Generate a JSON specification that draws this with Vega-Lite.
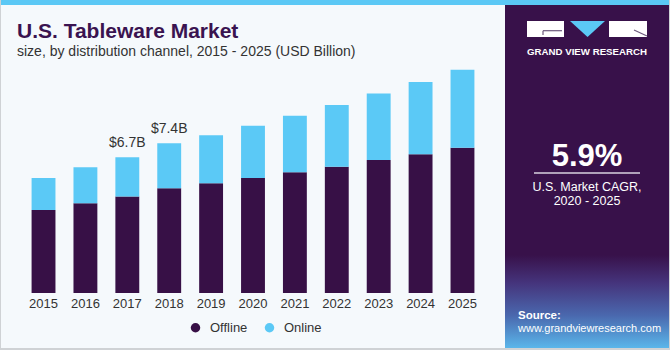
{
  "$schema": "https://vega.github.io/schema/vega-lite/v6.json",
  "background": "#cfd2d5",
  "padding": {"left": 1, "right": 1, "top": 0, "bottom": 2},
  "spacing": 0,
  "bounds": "flush",
  "config": {"view": {"stroke": null}, "concat": {"spacing": 0}, "font": "Liberation Sans"},
  "datasets": {
    "market": [
      {"year": "2015", "channel": "Offline", "value": 4.10},
      {"year": "2015", "channel": "Online", "value": 1.58},
      {"year": "2016", "channel": "Offline", "value": 4.43},
      {"year": "2016", "channel": "Online", "value": 1.78},
      {"year": "2017", "channel": "Offline", "value": 4.77},
      {"year": "2017", "channel": "Online", "value": 1.93},
      {"year": "2018", "channel": "Offline", "value": 5.17},
      {"year": "2018", "channel": "Online", "value": 2.23},
      {"year": "2019", "channel": "Offline", "value": 5.42},
      {"year": "2019", "channel": "Online", "value": 2.37},
      {"year": "2020", "channel": "Offline", "value": 5.68},
      {"year": "2020", "channel": "Online", "value": 2.58},
      {"year": "2021", "channel": "Offline", "value": 5.96},
      {"year": "2021", "channel": "Online", "value": 2.80},
      {"year": "2022", "channel": "Offline", "value": 6.24},
      {"year": "2022", "channel": "Online", "value": 3.05},
      {"year": "2023", "channel": "Offline", "value": 6.57},
      {"year": "2023", "channel": "Online", "value": 3.28},
      {"year": "2024", "channel": "Offline", "value": 6.85},
      {"year": "2024", "channel": "Online", "value": 3.57},
      {"year": "2025", "channel": "Offline", "value": 7.18},
      {"year": "2025", "channel": "Online", "value": 3.85}
    ],
    "panelBold": [
      {"text": "GRAND VIEW RESEARCH", "px": 82, "py": 49.5, "fs": 9.7},
      {"text": "5.9%", "px": 82, "py": 161, "fs": 31}
    ],
    "panelNormal": [
      {"text": "U.S. Market CAGR,", "px": 82, "py": 185.5, "fs": 12.5},
      {"text": "2020 - 2025", "px": 82, "py": 199.5, "fs": 12.5}
    ],
    "sourceBold": [{"text": "Source:", "px": 13, "py": 314, "fs": 11.5}],
    "sourceNormal": [{"text": "www.grandviewresearch.com", "px": 13, "py": 327, "fs": 11}],
    "logoBlocks": [
      {"x1": 22, "x2": 59, "y1": 16, "y2": 32},
      {"x1": 104, "x2": 142, "y1": 16, "y2": 32}
    ],
    "logoLines": [
      {"x1": 38, "x2": 57, "y1": 25.7, "y2": 25.7},
      {"x1": 38, "x2": 38, "y1": 25.7, "y2": 30},
      {"x1": 129, "x2": 142, "y1": 25, "y2": 31}
    ],
    "logoTriangle": [{"px": 82.5, "py": 24}],
    "divider": [{"x1": 29, "x2": 135, "y1": 168, "y2": 168}],
    "glow": [{"x1": 0, "x2": 164, "y1": 250, "y2": 343}]
  },
  "vconcat": [
    {
      "width": 668,
      "height": 5,
      "data": {"values": [{}]},
      "mark": {"type": "rect", "color": "#5bc8f5"},
      "encoding": {}
    },
    {
      "hconcat": [
        {
          "width": 504,
          "height": 343,
          "view": {"fill": "#f5f9fc", "stroke": null},
          "title": {
            "text": "U.S. Tableware Market",
            "subtitle": "size, by distribution channel, 2015 - 2025 (USD Billion)",
            "anchor": "start",
            "frame": "group",
            "orient": "top",
            "offset": -54,
            "dx": 16,
            "font": "Liberation Sans",
            "fontSize": 21,
            "fontWeight": "bold",
            "color": "#3a1350",
            "subtitleFont": "Liberation Sans",
            "subtitleFontSize": 14,
            "subtitleColor": "#333333",
            "subtitlePadding": 3
          },
          "data": {"name": "market"},
          "encoding": {
            "x": {
              "field": "year",
              "type": "ordinal",
              "scale": {"paddingInner": 0.43, "paddingOuter": 0.73},
              "axis": {
                "title": null,
                "domain": false,
                "ticks": false,
                "grid": false,
                "labelAngle": 0,
                "labelPadding": 4,
                "labelFont": "Liberation Sans",
                "labelFontSize": 13,
                "labelColor": "#333333",
                "offset": -55
              }
            }
          },
          "layer": [
            {
              "transform": [
                {"calculate": "datum.channel === 'Offline' ? 0 : 1", "as": "stackorder"}
              ],
              "mark": {"type": "bar"},
              "encoding": {
                "y": {
                  "field": "value",
                  "type": "quantitative",
                  "stack": "zero",
                  "scale": {"domain": [-2.717, 14.227], "nice": false, "zero": false},
                  "axis": null
                },
                "order": {"field": "stackorder", "sort": "ascending"},
                "color": {
                  "field": "channel",
                  "type": "nominal",
                  "scale": {"domain": ["Offline", "Online"], "range": ["#371046", "#5bc9f6"]},
                  "legend": {
                    "title": null,
                    "orient": "none",
                    "legendX": 188,
                    "legendY": 321,
                    "direction": "horizontal",
                    "symbolType": "circle",
                    "symbolSize": 90,
                    "labelFont": "Liberation Sans",
                    "labelFontSize": 13,
                    "labelColor": "#333333",
                    "labelOffset": 8,
                    "columnPadding": 15,
                    "padding": 0
                  }
                }
              }
            },
            {
              "transform": [
                {"aggregate": [{"op": "sum", "field": "value", "as": "total"}], "groupby": ["year"]},
                {"filter": {"field": "year", "oneOf": ["2017", "2018"]}},
                {"calculate": "'$' + format(datum.total, '.1f') + 'B'", "as": "label"}
              ],
              "mark": {"type": "text", "baseline": "alphabetic", "dy": -10, "font": "Liberation Sans", "fontSize": 14, "color": "#333333"},
              "encoding": {
                "y": {"field": "total", "type": "quantitative"},
                "text": {"field": "label"}
              }
            }
          ]
        },
        {
          "width": 164,
          "height": 343,
          "view": {"fill": "#38114a", "stroke": null},
          "layer": [
            {
              "data": {"name": "glow"},
              "mark": {
                "type": "rect",
                "color": {
                  "gradient": "linear", "x1": 0, "y1": 0, "x2": 0, "y2": 1,
                  "stops": [
                    {"offset": 0, "color": "#38114a"},
                    {"offset": 0.3, "color": "#45347c"},
                    {"offset": 0.65, "color": "#4a68ae"},
                    {"offset": 1, "color": "#5ab6ea"}
                  ]
                }
              },
              "encoding": {
                "x": {"field": "x1", "type": "quantitative", "scale": {"domain": [0, 164], "nice": false, "zero": false}, "axis": null},
                "x2": {"field": "x2"},
                "y": {"field": "y1", "type": "quantitative", "scale": {"domain": [0, 343], "nice": false, "zero": false, "reverse": true}, "axis": null},
                "y2": {"field": "y2"}
              }
            },
            {
              "data": {"name": "logoBlocks"},
              "mark": {"type": "rect", "color": "#ffffff"},
              "encoding": {
                "x": {"field": "x1", "type": "quantitative"},
                "x2": {"field": "x2"},
                "y": {"field": "y1", "type": "quantitative"},
                "y2": {"field": "y2"}
              }
            },
            {
              "data": {"name": "logoLines"},
              "mark": {"type": "rule", "color": "#6d5a7d", "strokeWidth": 1.2},
              "encoding": {
                "x": {"field": "x1", "type": "quantitative"},
                "x2": {"field": "x2"},
                "y": {"field": "y1", "type": "quantitative"},
                "y2": {"field": "y2"}
              }
            },
            {
              "data": {"name": "logoTriangle"},
              "mark": {"type": "point", "shape": "M-1,-0.457L1,-0.457L0,0.457Z", "filled": true, "color": "#5bc8f5", "opacity": 1, "size": 1225},
              "encoding": {
                "x": {"field": "px", "type": "quantitative"},
                "y": {"field": "py", "type": "quantitative"}
              }
            },
            {
              "data": {"name": "divider"},
              "mark": {"type": "rule", "color": "#d9d2e0", "strokeWidth": 1.5},
              "encoding": {
                "x": {"field": "x1", "type": "quantitative"},
                "x2": {"field": "x2"},
                "y": {"field": "y1", "type": "quantitative"}
              }
            },
            {
              "data": {"name": "panelBold"},
              "mark": {"type": "text", "align": "center", "baseline": "alphabetic", "fontWeight": "bold", "color": "#ffffff", "font": "Liberation Sans"},
              "encoding": {
                "x": {"field": "px", "type": "quantitative"},
                "y": {"field": "py", "type": "quantitative"},
                "size": {"field": "fs", "type": "quantitative", "scale": null},
                "text": {"field": "text"}
              }
            },
            {
              "data": {"name": "panelNormal"},
              "mark": {"type": "text", "align": "center", "baseline": "alphabetic", "color": "#ffffff", "font": "Liberation Sans"},
              "encoding": {
                "x": {"field": "px", "type": "quantitative"},
                "y": {"field": "py", "type": "quantitative"},
                "size": {"field": "fs", "type": "quantitative", "scale": null},
                "text": {"field": "text"}
              }
            },
            {
              "data": {"name": "sourceBold"},
              "mark": {"type": "text", "align": "left", "baseline": "alphabetic", "fontWeight": "bold", "color": "#ffffff", "font": "Liberation Sans"},
              "encoding": {
                "x": {"field": "px", "type": "quantitative"},
                "y": {"field": "py", "type": "quantitative"},
                "size": {"field": "fs", "type": "quantitative", "scale": null},
                "text": {"field": "text"}
              }
            },
            {
              "data": {"name": "sourceNormal"},
              "mark": {"type": "text", "align": "left", "baseline": "alphabetic", "color": "#ffffff", "font": "Liberation Sans"},
              "encoding": {
                "x": {"field": "px", "type": "quantitative"},
                "y": {"field": "py", "type": "quantitative"},
                "size": {"field": "fs", "type": "quantitative", "scale": null},
                "text": {"field": "text"}
              }
            }
          ]
        }
      ]
    }
  ]
}
